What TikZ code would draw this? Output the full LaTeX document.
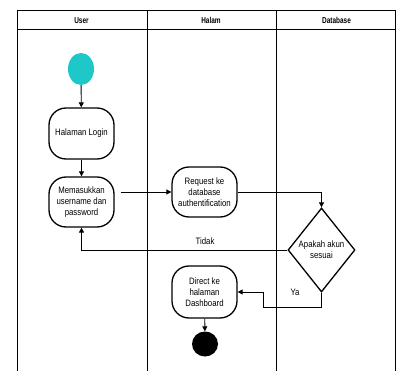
\documentclass[tikz,border=0pt]{standalone}
\usepackage{fontspec}
\setmainfont{Liberation Sans}[FakeStretch=0.84]
\newfontfamily\headfont{Liberation Sans}[FakeStretch=0.75]
\usetikzlibrary{shapes.geometric,arrows.meta}
\definecolor{startc}{HTML}{1EC8C8}
\begin{document}
\begin{tikzpicture}[x=1pt,y=-1pt,
  act/.style={draw, line width=1.3pt, rounded corners=17pt, minimum width=65pt, minimum height=51pt, align=center, font=\fontsize{9.3}{11.3}\selectfont, inner sep=1pt},
  flow/.style={draw, line width=0.9pt, -{Triangle[length=5pt,width=5pt]}},
  lane/.style={draw, line width=1pt},
  head/.style={font=\headfont\bfseries\fontsize{8.6}{10}\selectfont},
  lbl/.style={font=\fontsize{9.3}{11.3}\selectfont}]
\useasboundingbox (0,0) rectangle (396,371);
\fill[white] (0,0) rectangle (396,371);
% swimlanes
\draw[lane] (17,371) -- (17,11) -- (395,11) -- (395,371);
\draw[lane] (17,30) -- (395,30);
\draw[lane] (147,11) -- (147,371);
\draw[lane] (276,11) -- (276,371);
\node[head] (hUser) at (81.5,20.5) {User};
\node[head] (hHalam) at (211,20.5) {Halam};
\node[head] (hDb) at (336.5,20.5) {Database};
% nodes
\node[ellipse, fill=startc, minimum width=26pt, minimum height=32pt, inner sep=0pt] (start) at (81,69) {};
\node[act] (login) at (81.5,133.5) {Halaman Login};
\node[act, minimum height=50pt] (input) at (81.5,202) {Memasukkan\\username dan\\password};
\node[act, minimum height=50pt] (req) at (204.5,192) {Request ke\\database\\authentification};
\node[diamond, draw, line width=1.3pt, minimum width=67pt, minimum height=84pt, inner sep=0pt, align=center, font=\fontsize{9.3}{11.3}\selectfont] (dec) at (321.5,250) {Apakah akun\\sesuai};
\node[act, minimum height=52pt] (direct) at (204.5,292) {Direct ke\\halaman\\Dashboard};
\node[ellipse, fill=black, minimum width=26pt, minimum height=25pt, inner sep=0pt] (end) at (205,344) {};
% connectors
\draw[flow] (start) -- (login);
\draw[flow] (login) -- (input);
\coordinate (inStart) at (121,192);
\draw[flow] (inStart) -- (req.west);
\draw[flow] (req.east) -| (dec.north);
\draw[flow] (dec.west) -| (input.south);
\node[lbl] (tidak) at (205,241) {Tidak};
\coordinate (yaT) at (263,307);
\draw[flow] (dec.south) |- (yaT) |- (direct.east);
\node[lbl] (ya) at (295,292) {Ya};
\draw[flow] (direct) -- (end);
\end{tikzpicture}
\end{document}
